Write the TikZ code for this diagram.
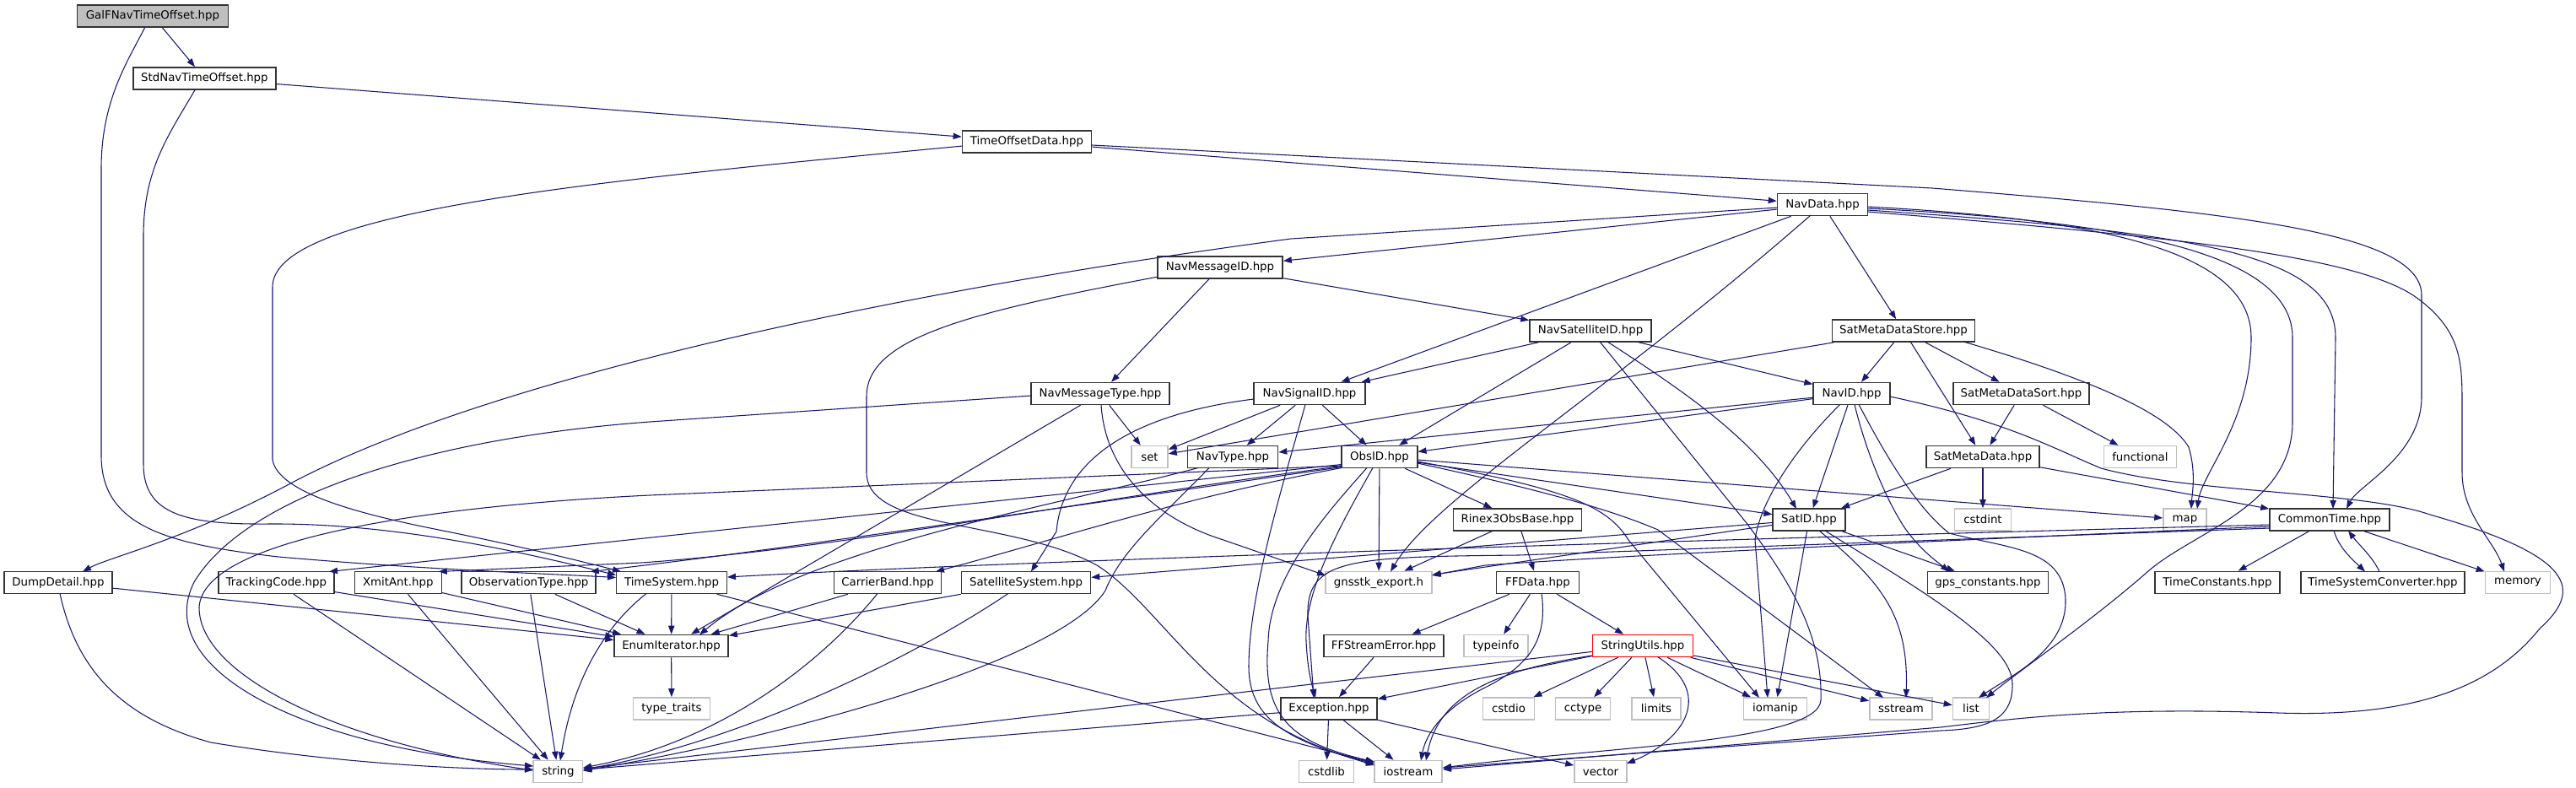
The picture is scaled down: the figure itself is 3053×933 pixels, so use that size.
\documentclass[tikz,border=0pt]{standalone}
\usepackage{fontspec}
\setmainfont{DejaVu Sans}
\usetikzlibrary{arrows.meta,calc}
\definecolor{edgec}{HTML}{191970}
\definecolor{docb}{HTML}{333333}
\definecolor{extb}{HTML}{BFBFBF}
\definecolor{galfill}{HTML}{BFBFBF}
\begin{document}
\begin{tikzpicture}[x=0.75pt,y=-0.75pt,
  font=\fontsize{10pt}{12pt}\selectfont,
  edg/.style={draw=edgec,line width=0.8pt,-{Triangle[length=7.5pt,width=5.5pt]}},
  doc/.style={draw=docb,line width=1.2pt,fill=white,minimum height=19.5pt,inner sep=0pt,text=black},
  ext/.style={doc,draw=extb}]
\fill[white] (0,0) rectangle (3053,933);
\useasboundingbox (0,0) rectangle (3053,933);
% nodes
\node[doc,fill=galfill,minimum width=134.25pt] (galf) at (181,19) {GalFNavTimeOffset.hpp};
\node[doc,minimum width=126.75pt] (stdnav) at (242.4,93) {StdNavTimeOffset.hpp};
\node[doc,minimum width=114.75pt] (tod) at (1217,168) {TimeOffsetData.hpp};
\node[doc,minimum width=80.25pt] (navdata) at (2160,242.5) {NavData.hpp};
\node[doc,minimum width=111pt] (navmsgid) at (1446,317) {NavMessageID.hpp};
\node[doc,minimum width=108pt] (navsatid) at (1885,392) {NavSatelliteID.hpp};
\node[doc,minimum width=126.75pt] (smds) at (2256,392) {SatMetaDataStore.hpp};
\node[doc,minimum width=123.4pt] (navmsgtype) at (1304,466.5) {NavMessageType.hpp};
\node[doc,minimum width=99pt] (navsigid) at (1552,466.5) {NavSignalID.hpp};
\node[doc,minimum width=68.25pt] (navid) at (2194.6,466.5) {NavID.hpp};
\node[doc,minimum width=120.75pt] (smdsort) at (2395.5,466.5) {SatMetaDataSort.hpp};
\node[ext,minimum width=32.25pt] (set) at (1362.5,541.5) {set};
\node[doc,minimum width=80.25pt] (navtype) at (1461,541.5) {NavType.hpp};
\node[doc,minimum width=67.1pt] (obsid) at (1635,541.5) {ObsID.hpp};
\node[doc,minimum width=100.9pt] (smd) at (2350,541.5) {SatMetaData.hpp};
\node[ext,minimum width=64.5pt] (functional) at (2536.4,541.5) {functional};
\node[doc,minimum width=114pt] (rinex) at (1798.5,616) {Rinex3ObsBase.hpp};
\node[doc,minimum width=64.1pt] (satid) at (2144,616) {SatID.hpp};
\node[ext,minimum width=50.25pt] (cstdint) at (2350,616) {cstdint};
\node[ext,minimum width=38.25pt] (map) at (2589.5,616) {map};
\node[doc,minimum width=106.5pt] (commontime) at (2761,616) {CommonTime.hpp};
\node[doc,minimum width=96pt] (dump) at (69,690.5) {DumpDetail.hpp};
\node[doc,minimum width=102.75pt] (tracking) at (327.4,690.5) {TrackingCode.hpp};
\node[doc,minimum width=77.25pt] (xmit) at (471.8,690.5) {XmitAnt.hpp};
\node[doc,minimum width=119.25pt] (obstype) at (626.7,690.5) {ObservationType.hpp};
\node[doc,minimum width=98.25pt] (timesys) at (796,690.5) {TimeSystem.hpp};
\node[doc,minimum width=95.25pt] (carrier) at (1052,690.5) {CarrierBand.hpp};
\node[doc,minimum width=114.75pt] (satsys) at (1216,690.5) {SatelliteSystem.hpp};
\node[ext,minimum width=94.5pt] (gnsstk) at (1634,690.5) {gnsstk\_export.h};
\node[doc,minimum width=73.5pt] (ffdata) at (1822.5,690.5) {FFData.hpp};
\node[doc,minimum width=107.25pt] (gpsc) at (2356,690.5) {gps\_constants.hpp};
\node[doc,minimum width=111pt] (timeconst) at (2628,690.5) {TimeConstants.hpp};
\node[doc,minimum width=145.5pt] (tsconv) at (2824,690.5) {TimeSystemConverter.hpp};
\node[ext,minimum width=57.75pt] (memory) at (2984,690.5) {memory};
\node[doc,minimum width=101.25pt] (enumit) at (795.6,765.5) {EnumIterator.hpp};
\node[doc,minimum width=106.5pt] (ffse) at (1640,765.5) {FFStreamError.hpp};
\node[ext,minimum width=57pt] (typeinfo) at (1773,765.5) {typeinfo};
\node[doc,draw=red,minimum width=89.25pt] (strutils) at (1947,765.5) {StringUtils.hpp};
\node[ext,minimum width=68.25pt] (typetraits) at (796,840) {type\_traits};
\node[doc,minimum width=85.5pt] (exception) at (1575,840) {Exception.hpp};
\node[ext,minimum width=45.75pt] (cstdio) at (1788,840) {cstdio};
\node[ext,minimum width=48.75pt] (cctype) at (1876,840) {cctype};
\node[ext,minimum width=43.5pt] (limits) at (1963,840) {limits};
\node[ext,minimum width=56.25pt] (iomanip) at (2104,840) {iomanip};
\node[ext,minimum width=55.5pt] (sstream) at (2253,840) {sstream};
\node[ext,minimum width=32.25pt] (list) at (2336,840) {list};
\node[ext,minimum width=43.9pt] (string) at (661.4,914.5) {string};
\node[ext,minimum width=48.75pt] (cstdlib) at (1572,914.5) {cstdlib};
\node[ext,minimum width=60.4pt] (iostream) at (1669,914.5) {iostream};
\node[ext,minimum width=46.5pt] (vector) at (1897,914.5) {vector};
% straight edges
\draw[edg] (galf) -- (stdnav);
\draw[edg] (stdnav) -- (tod);
\draw[edg] (tod) -- (navdata);
\draw[edg] (navdata) -- (navmsgid);
\draw[edg] (navdata) -- (navsigid);
\draw[edg] (navdata) -- (smds);
\draw[edg] (navmsgid) -- (navmsgtype);
\draw[edg] (navmsgid) -- (navsatid);
\draw[edg] (navmsgtype) -- (set);
\draw[edg] (navmsgtype) -- (enumit);
\draw[edg] (navsatid) -- (navsigid);
\draw[edg] (navsatid) -- (obsid);
\draw[edg] (navsatid) -- (navid);
\draw[edg] (smds) -- (navid);
\draw[edg] (smds) -- (smdsort);
\draw[edg] (smds) -- (smd);
\draw[edg] (smds) -- (set);
\draw[edg] (smdsort) -- (smd);
\draw[edg] (smdsort) -- (functional);
\draw[edg] (navsigid) -- (obsid);
\draw[edg] (navsigid) -- (navtype);
\draw[edg] (navsigid) -- (set);
\draw[edg] (navid) -- (navtype);
\draw[edg] (navid) -- (obsid);
\draw[edg] (navid) -- (satid);
\draw[edg] (obsid) -- (rinex);
\draw[edg] (obsid) -- (satid);
\draw[edg] (obsid) -- (map);
\draw[edg] (obsid) -- (gnsstk);
\draw[edg] (smd) -- (satid);
\draw[edg] (smd) -- (cstdint);
\draw[edg] (smd) -- (commontime);
\draw[edg] (rinex) -- (gnsstk);
\draw[edg] (rinex) -- (ffdata);
\draw[edg] (satid) -- (satsys);
\draw[edg] (satid) -- (gnsstk);
\draw[edg] (satid) -- (iomanip);
\draw[edg] (satid) -- (gpsc);
\draw[edg] (commontime) -- (timeconst);
\draw[edg] (commontime) -- (memory);
\draw[edg] (ffdata) -- (ffse);
\draw[edg] (ffdata) -- (typeinfo);
\draw[edg] (ffdata) -- (strutils);
\draw[edg] (ffse) -- (exception);
\draw[edg] (strutils) -- (exception);
\draw[edg] (strutils) -- (string);
\draw[edg] (strutils) -- (cstdio);
\draw[edg] (strutils) -- (cctype);
\draw[edg] (strutils) -- (limits);
\draw[edg] (strutils) -- (iomanip);
\draw[edg] (strutils) -- (sstream);
\draw[edg] (strutils) -- (list);
\draw[edg] (exception) -- (cstdlib);
\draw[edg] (exception) -- (iostream);
\draw[edg] (exception) -- (vector);
\draw[edg] (exception) -- (string);
\draw[edg] (timesys) -- (enumit);
\draw[edg] (timesys) -- (iostream);
\draw[edg] (enumit) -- (typetraits);
\draw[edg] (dump) -- (enumit);
\draw[edg] (tracking) -- (enumit);
\draw[edg] (tracking) -- (string);
\draw[edg] (xmit) -- (enumit);
\draw[edg] (xmit) -- (string);
\draw[edg] (obstype) -- (enumit);
\draw[edg] (obstype) -- (string);
\draw[edg] (carrier) -- (enumit);
\draw[edg] (satsys) -- (enumit);
% curved edges
\draw[edg] ([shift={(-9,13)}]galf.center) .. controls (150,75) and (120,120) .. (120,200) -- (120,540) .. controls (120,625) and (200,645) .. (330,660) .. controls (500,675) and (650,680) .. ([shift={(-66,-6)}]timesys.center);
\draw[edg] ([shift={(-11,13)}]stdnav.center) .. controls (200,160) and (170,200) .. (170,280) -- (170,550) .. controls (170,610) and (220,622) .. (320,621) .. controls (480,620) and (640,660) .. ([shift={(-66,-9)}]timesys.center);
\draw[edg] ([shift={(-76,5)}]tod.center) .. controls (700,215) and (323,250) .. (323,340) -- (323,545) .. controls (330,585) and (430,610) .. (520,628) .. controls (620,648) and (700,668) .. ([shift={(-60,-13)}]timesys.center);
\draw[edg] ([shift={(77,4)}]tod.center) -- (2290,223) .. controls (2650,252) and (2870,275) .. (2870,350) -- (2870,470) .. controls (2870,540) and (2795,575) .. ([shift={(20,-13)}]commontime.center);
\draw[edg] ([shift={(-53,3.5)}]navdata.center) -- (1530,283) .. controls (1100,340) and (600,440) .. (350,570) .. controls (220,640) and (130,660) .. ([shift={(29,-13)}]dump.center);
\draw[edg] ([shift={(-14,12.5)}]navdata.center) .. controls (1900,470) and (1700,590) .. ([shift={(14,-13)}]gnsstk.center);
\draw[edg] ([shift={(53,2.5)}]navdata.center) .. controls (2500,260) and (2668,300) .. (2668,400) .. controls (2668,500) and (2610,560) .. ([shift={(14.5,-13)}]map.center);
\draw[edg] ([shift={(53,4.5)}]navdata.center) .. controls (2520,262) and (2717,300) .. (2717,400) -- (2717,500) .. controls (2717,600) and (2600,630) .. (2546,677) .. controls (2480,735) and (2400,790) .. ([shift={(18,-13)}]list.center);
\draw[edg] ([shift={(53,6.5)}]navdata.center) .. controls (2600,275) and (2768,300) .. (2768,400) -- ([shift={(4,-13)}]commontime.center);
\draw[edg] ([shift={(53,8.5)}]navdata.center) .. controls (2600,282) and (2790,305) .. (2860,350) .. controls (2918,390) and (2918,430) .. (2918,480) -- (2918,560) .. controls (2918,610) and (2955,640) .. ([shift={(-16,-13)}]memory.center);
\draw[edg] ([shift={(-73.5,11)}]navmsgid.center) .. controls (1150,370) and (1027,400) .. (1027,470) -- (1027,560) .. controls (1027,630) and (1200,615) .. (1300,670) .. controls (1380,720) and (1440,860) .. ([shift={(-40,-9.5)}]iostream.center);
\draw[edg] ([shift={(-82,2.5)}]navmsgtype.center) -- (770,500) .. controls (500,520) and (290,590) .. (230,690) .. controls (180,790) and (350,885) .. ([shift={(-29.4,-6.5)}]string.center);
\draw[edg] ([shift={(1,13)}]navmsgtype.center) .. controls (1310,560) and (1370,615) .. (1450,640) -- ([shift={(-63,-8.5)}]gnsstk.center);
\draw[edg] ([shift={(20,13)}]navsatid.center) .. controls (1990,460) and (2080,520) .. ([shift={(-15,-13)}]satid.center);
\draw[edg] ([shift={(11,13)}]navsatid.center) -- (2070,620) .. controls (2130,700) and (2160,760) .. (2158,830) .. controls (2155,880) and (1900,885) .. ([shift={(41,-4.5)}]iostream.center);
\draw[edg] ([shift={(71,13)}]smds.center) .. controls (2480,450) and (2570,490) .. (2594,530) .. controls (2603,560) and (2598,585) .. ([shift={(7.5,-13)}]map.center);
\draw[edg] ([shift={(-66,6.5)}]navsigid.center) .. controls (1350,490) and (1260,540) .. (1252,630) -- ([shift={(6,-13)}]satsys.center);
\draw[edg] ([shift={(-5,13)}]navsigid.center) .. controls (1525,560) and (1480,700) .. (1480,790) .. controls (1480,860) and (1540,880) .. ([shift={(-40,-7.5)}]iostream.center);
\draw[edg] ([shift={(-15,13)}]obsid.center) .. controls (1580,600) and (1505,680) .. (1503,760) .. controls (1495,850) and (1530,880) .. ([shift={(-40,-11.5)}]iostream.center);
\draw[edg] ([shift={(-8,13)}]obsid.center) .. controls (1590,620) and (1545,700) .. (1548,760) .. controls (1550,800) and (1556,815) .. ([shift={(-16,-13)}]exception.center);
\draw[edg] ([shift={(45,5.5)}]obsid.center) .. controls (1860,580) and (1905,600) .. (1930,640) -- ([shift={(-19,-13)}]iomanip.center);
\draw[edg] ([shift={(45,7.5)}]obsid.center) .. controls (1800,575) and (1900,600) .. (1965,628) -- ([shift={(-21,-13)}]sstream.center);
\draw[edg] ([shift={(-45,10.5)}]obsid.center) -- (770,587) .. controls (500,600) and (240,640) .. (236,720) .. controls (236,800) and (400,880) .. ([shift={(-29.4,-1.5)}]string.center);
\draw[edg] ([shift={(-45,9)}]obsid.center) -- ([shift={(62.6,-13)}]tracking.center);
\draw[edg] ([shift={(-45,11)}]obsid.center) .. controls (1300,590) and (1000,650) .. (760,667) -- ([shift={(48,-13)}]xmit.center);
\draw[edg] ([shift={(-45,12)}]obsid.center) .. controls (1200,610) and (900,655) .. ([shift={(73,-13)}]obstype.center);
\draw[edg] ([shift={(-45,13)}]obsid.center) .. controls (1400,590) and (1250,640) .. ([shift={(57,-13)}]carrier.center);
\draw[edg] ([shift={(-14,13)}]navid.center) .. controls (2120,540) and (2085,600) .. (2080,640) -- ([shift={(-9,-13)}]iomanip.center);
\draw[edg] ([shift={(3.4,13)}]navid.center) .. controls (2215,550) and (2245,610) .. (2262,632) .. controls (2280,655) and (2295,665) .. ([shift={(-46,-13)}]gpsc.center);
\draw[edg] ([shift={(8.4,13)}]navid.center) .. controls (2235,540) and (2270,600) .. (2310,632) .. controls (2380,650) and (2445,650) .. (2448,710) .. controls (2450,770) and (2385,800) .. ([shift={(9,-13)}]list.center);
\draw[edg] ([shift={(45.4,3.5)}]navid.center) .. controls (2380,500) and (2430,530) .. (2490,555) .. controls (2600,585) and (2800,582) .. (2880,610) .. controls (3055,660) and (3060,700) .. (3010,745) .. controls (2950,820) and (2850,850) .. (2700,845) .. controls (2500,838) and (2400,850) .. (2300,862) -- ([shift={(41,-2.5)}]iostream.center);
\draw[edg] ([shift={(12,13)}]satid.center) .. controls (2230,690) and (2262,730) .. ([shift={(6,-13)}]sstream.center);
\draw[edg] ([shift={(19,13)}]satid.center) .. controls (2260,690) and (2385,760) .. (2385,810) .. controls (2386,850) and (2360,864) .. (2300,866) -- ([shift={(41,-4.5)}]iostream.center);
\draw[edg] ([shift={(4.5,13)}]ffdata.center) .. controls (1835,760) and (1810,790) .. (1760,815) .. controls (1710,840) and (1690,870) .. ([shift={(15,-13)}]iostream.center);
\draw[edg] ([shift={(-60,11.5)}]strutils.center) .. controls (1770,795) and (1705,825) .. ([shift={(21,-13)}]iostream.center);
\draw[edg] ([shift={(17.5,13)}]strutils.center) .. controls (2030,820) and (2000,875) .. ([shift={(31,-9.5)}]vector.center);
\draw[edg] ([shift={(-30,13)}]timesys.center) .. controls (720,740) and (680,800) .. ([shift={(2.6,-13)}]string.center);
\draw[edg] ([shift={(2,13)}]dump.center) .. controls (90,790) and (140,850) .. (250,880) .. controls (400,905) and (550,912) .. ([shift={(-29.4,-2.5)}]string.center);
\draw[edg] ([shift={(-12,13)}]carrier.center) .. controls (970,790) and (850,880) .. ([shift={(29.6,-4.5)}]string.center);
\draw[edg] ([shift={(-21,13)}]satsys.center) .. controls (1050,800) and (850,885) .. ([shift={(29.6,-2.5)}]string.center);
\draw[edg] ([shift={(-41,13)}]navtype.center) .. controls (1250,600) and (950,650) .. ([shift={(33.4,-13)}]enumit.center);
\draw[edg] ([shift={(-28,13)}]navtype.center) .. controls (1380,610) and (1330,650) .. (1310,700) .. controls (1260,780) and (950,870) .. ([shift={(29.6,-1)}]string.center);
\draw[edg] ([shift={(5,13)}]commontime.center) .. controls (2772,650) and (2790,665) .. ([shift={(-21,-13)}]tsconv.center);
\draw[edg] ([shift={(-4,-13)}]tsconv.center) .. controls (2812,660) and (2795,645) .. ([shift={(22,13)}]commontime.center);
\draw[edg] ([shift={(-71,6)}]commontime.center) .. controls (2000,640) and (1200,665) .. ([shift={(66,-6.5)}]timesys.center);
\draw[edg] ([shift={(-71,8)}]commontime.center) .. controls (2200,645) and (1900,660) .. (1760,670) -- ([shift={(63,-8.5)}]gnsstk.center);
\draw[edg] ([shift={(-71,10)}]commontime.center) -- (1800,658) .. controls (1600,660) and (1548,662) .. (1550,730) -- ([shift={(-18,-13)}]exception.center);
\end{tikzpicture}
\end{document}
